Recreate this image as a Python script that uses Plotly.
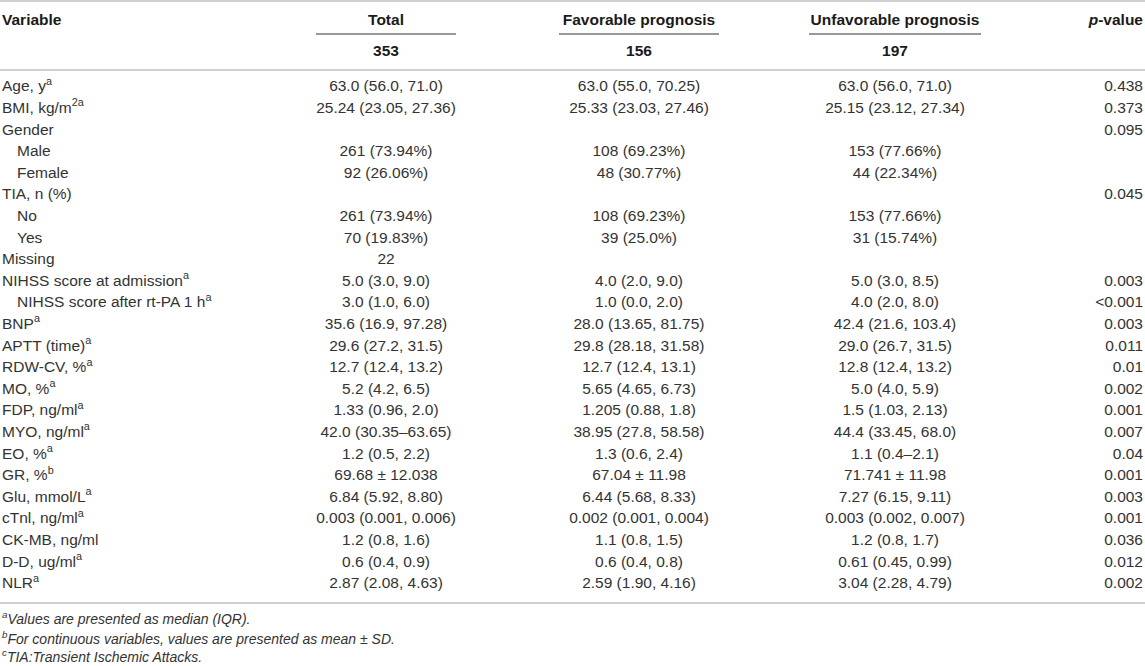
import plotly.graph_objects as go

# ---------------- data ----------------
variables = ["Age, y<sup>a</sup>", "BMI, kg/m<sup>2a</sup>", "Gender", "Male", "Female",
             "TIA, n (%)", "No", "Yes", "Missing", "NIHSS score at admission<sup>a</sup>",
             "NIHSS score after rt-PA 1 h<sup>a</sup>", "BNP<sup>a</sup>", "APTT (time)<sup>a</sup>",
             "RDW-CV, %<sup>a</sup>", "MO, %<sup>a</sup>", "FDP, ng/ml<sup>a</sup>",
             "MYO, ng/ml<sup>a</sup>", "EO, %<sup>a</sup>", "GR, %<sup>b</sup>",
             "Glu, mmol/L<sup>a</sup>", "cTnl, ng/ml<sup>a</sup>", "CK-MB, ng/ml",
             "D-D, ug/ml<sup>a</sup>", "NLR<sup>a</sup>"]
indented = [False, False, False, True, True, False, True, True, False, False,
            True, False, False, False, False, False, False, False, False, False,
            False, False, False, False]

total = ["63.0 (56.0, 71.0)", "25.24 (23.05, 27.36)", "", "261 (73.94%)", "92 (26.06%)", "",
         "261 (73.94%)", "70 (19.83%)", "22", "5.0 (3.0, 9.0)", "3.0 (1.0, 6.0)",
         "35.6 (16.9, 97.28)", "29.6 (27.2, 31.5)", "12.7 (12.4, 13.2)", "5.2 (4.2, 6.5)",
         "1.33 (0.96, 2.0)", "42.0 (30.35–63.65)", "1.2 (0.5, 2.2)", "69.68 ± 12.038",
         "6.84 (5.92, 8.80)", "0.003 (0.001, 0.006)", "1.2 (0.8, 1.6)", "0.6 (0.4, 0.9)",
         "2.87 (2.08, 4.63)"]
favorable = ["63.0 (55.0, 70.25)", "25.33 (23.03, 27.46)", "", "108 (69.23%)", "48 (30.77%)", "",
             "108 (69.23%)", "39 (25.0%)", "", "4.0 (2.0, 9.0)", "1.0 (0.0, 2.0)",
             "28.0 (13.65, 81.75)", "29.8 (28.18, 31.58)", "12.7 (12.4, 13.1)", "5.65 (4.65, 6.73)",
             "1.205 (0.88, 1.8)", "38.95 (27.8, 58.58)", "1.3 (0.6, 2.4)", "67.04 ± 11.98",
             "6.44 (5.68, 8.33)", "0.002 (0.001, 0.004)", "1.1 (0.8, 1.5)", "0.6 (0.4, 0.8)",
             "2.59 (1.90, 4.16)"]
unfavorable = ["63.0 (56.0, 71.0)", "25.15 (23.12, 27.34)", "", "153 (77.66%)", "44 (22.34%)", "",
               "153 (77.66%)", "31 (15.74%)", "", "5.0 (3.0, 8.5)", "4.0 (2.0, 8.0)",
               "42.4 (21.6, 103.4)", "29.0 (26.7, 31.5)", "12.8 (12.4, 13.2)", "5.0 (4.0, 5.9)",
               "1.5 (1.03, 2.13)", "44.4 (33.45, 68.0)", "1.1 (0.4–2.1)", "71.741 ± 11.98",
               "7.27 (6.15, 9.11)", "0.003 (0.002, 0.007)", "1.2 (0.8, 1.7)", "0.61 (0.45, 0.99)",
               "3.04 (2.28, 4.79)"]
p_values = ["0.438", "0.373", "0.095", "", "", "0.045", "", "", "", "0.003", "&lt;0.001",
            "0.003", "0.011", "0.01", "0.002", "0.001", "0.007", "0.04", "0.001", "0.003",
            "0.001", "0.036", "0.012", "0.002"]

group_headers = ["Total", "Favorable prognosis", "Unfavorable prognosis"]
group_counts = ["353", "156", "197"]
footnotes = ["<sup>a</sup>Values are presented as median (IQR).",
             "<sup>b</sup>For continuous variables, values are presented as mean ± SD.",
             "<sup>c</sup>TIA:Transient Ischemic Attacks."]

# ---------------- layout (pixels / row units) ----------------
W, H = 1145, 666
row0_px, pitch = 87.5, 21.6          # pixel of first body row, row pitch
def r(px):                            # pixel -> row units
    return (px - row0_px) / pitch

x_var, x_indent = 2, 17
col_centers = [386, 639, 895]
col_half = [70, 80, 86]
x_p = 1143

FAM = "Liberation Sans, Arial, sans-serif"
body_font = dict(family=FAM, size=15.5, color="#333333")
head_font = dict(family=FAM, size=15.5, color="#1a1a1a")
foot_font = dict(family=FAM, size=14, color="#333333")

rows = list(range(len(variables)))
fig = go.Figure()

# variable names
fig.add_trace(go.Scatter(
    x=[x_indent if ind else x_var for ind in indented], y=rows,
    text=variables, mode="text", textposition="middle right",
    textfont=body_font, hoverinfo="skip", showlegend=False))

# group columns
for cx, vals in zip(col_centers, [total, favorable, unfavorable]):
    fig.add_trace(go.Scatter(
        x=[cx] * len(vals), y=rows, text=vals, mode="text",
        textposition="middle center", textfont=body_font,
        hoverinfo="skip", showlegend=False))

# p-values
fig.add_trace(go.Scatter(
    x=[x_p] * len(p_values), y=rows, text=p_values, mode="text",
    textposition="middle left", textfont=body_font,
    hoverinfo="skip", showlegend=False))

# headers
y_head, y_count = r(21), r(52)
fig.add_trace(go.Scatter(
    x=[x_var], y=[y_head], text=["<b>Variable</b>"], mode="text",
    textposition="middle right", textfont=head_font, hoverinfo="skip", showlegend=False))
fig.add_trace(go.Scatter(
    x=col_centers, y=[y_head] * 3, text=["<b>%s</b>" % g for g in group_headers],
    mode="text", textposition="middle center", textfont=head_font,
    hoverinfo="skip", showlegend=False))
fig.add_trace(go.Scatter(
    x=col_centers, y=[y_count] * 3, text=["<b>%s</b>" % c for c in group_counts],
    mode="text", textposition="middle center", textfont=head_font,
    hoverinfo="skip", showlegend=False))
fig.add_trace(go.Scatter(
    x=[x_p], y=[y_head], text=["<b><i>p</i>-value</b>"], mode="text",
    textposition="middle left", textfont=head_font, hoverinfo="skip", showlegend=False))

# footnotes
foot_y = [r(620), r(640), r(658)]
fig.add_trace(go.Scatter(
    x=[x_var] * 3, y=foot_y, text=["<i>%s</i>" % f for f in footnotes], mode="text",
    textposition="middle right", textfont=foot_font, hoverinfo="skip", showlegend=False))

# rules
rule = dict(color="#d0d0d0", width=2)
for ypx in [1, 70, 603]:
    fig.add_shape(type="line", x0=0, x1=W, y0=r(ypx), y1=r(ypx), line=rule, layer="below")
for cx, hw in zip(col_centers, col_half):
    fig.add_shape(type="line", x0=cx - hw, x1=cx + hw, y0=r(34), y1=r(34),
                  line=dict(color="#333333", width=1), layer="below")

fig.update_xaxes(range=[0, W], visible=False, fixedrange=True)
fig.update_yaxes(range=[r(H), r(0)], visible=False, fixedrange=True)
fig.update_layout(width=W, height=H, margin=dict(l=0, r=0, t=0, b=0),
                  paper_bgcolor="white", plot_bgcolor="white")

fig.write_html("out.html", config={"displayModeBar": False},
               post_script="document.body.style.margin='0';")
